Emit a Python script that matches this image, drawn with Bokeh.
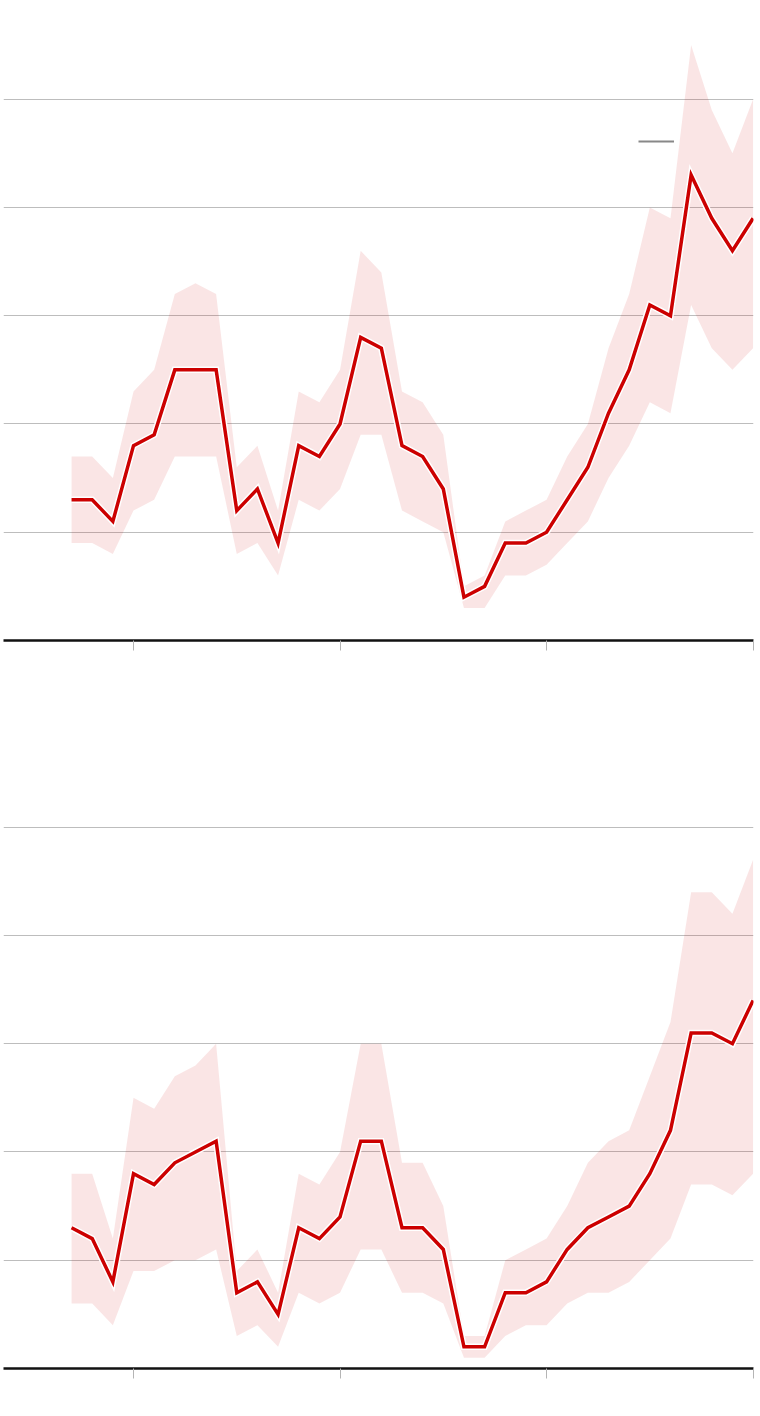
from bokeh.plotting import figure
from bokeh.layouts import column
from bokeh.models import (ColumnDataSource, Range1d, FixedTicker, CustomJSTickFormatter,
                          Legend, LegendItem)
from bokeh.embed import file_html
from bokeh.resources import INLINE

# ---- data ----
years = list(range(1977, 2011))
x_ticks = [1980, 1990, 2000, 2010]
y_grid = [10, 20, 30, 40, 50]

top_mid = [13, 13, 11, 18, 19, 25, 25, 25, 12, 14, 9, 18, 17, 20, 28, 27, 18, 17, 14, 4,
           5, 9, 9, 10, 13, 16, 21, 25, 31, 30, 43, 39, 36, 39]
top_hi = [17, 17, 15, 23, 25, 32, 33, 32, 16, 18, 12, 23, 22, 25, 36, 34, 23, 22, 19, 5,
          6, 11, 12, 13, 17, 20, 27, 32, 40, 39, 55, 49, 45, 50]
top_lo = [9, 9, 8, 12, 13, 17, 17, 17, 8, 9, 6, 13, 12, 14, 19, 19, 12, 11, 10, 3,
          3, 6, 6, 7, 9, 11, 15, 18, 22, 21, 31, 27, 25, 27]

bot_mid = [13, 12, 8, 18, 17, 19, 20, 21, 7, 8, 5, 13, 12, 14, 21, 21, 13, 13, 11, 2,
           2, 7, 7, 8, 11, 13, 14, 15, 18, 22, 31, 31, 30, 34]
bot_hi = [18, 18, 12, 25, 24, 27, 28, 30, 9, 11, 7, 18, 17, 20, 30, 30, 19, 19, 15, 3,
          3, 10, 11, 12, 15, 19, 21, 22, 27, 32, 44, 44, 42, 47]
bot_lo = [6, 6, 4, 9, 9, 10, 10, 11, 3, 4, 2, 7, 6, 7, 11, 11, 7, 7, 6, 1,
          1, 3, 4, 4, 6, 7, 7, 8, 10, 12, 17, 17, 16, 18]

RED = "#cc0000"


def make_panel(mid, hi, lo, height, top_border, with_legend):
    p = figure(width=756, height=height, output_backend="svg", toolbar_location=None,
               x_range=Range1d(1973.705, 2010.02), y_range=Range1d(0, 58.38),
               min_border_left=3, min_border_right=3, min_border_top=top_border,
               min_border_bottom=40)
    p.outline_line_color = None
    p.background_fill_color = "white"
    p.border_fill_color = "white"

    p.yaxis.visible = False
    p.xgrid.visible = False
    p.ygrid.ticker = FixedTicker(ticks=y_grid)
    p.ygrid.grid_line_color = "#bdbdbd"
    p.ygrid.grid_line_width = 1

    xa = p.xaxis[0]
    xa.ticker = FixedTicker(ticks=x_ticks)
    xa.formatter = CustomJSTickFormatter(code="return ''")
    xa.axis_line_color = "#111111"
    xa.axis_line_width = 2.5
    xa.major_tick_in = 0
    xa.major_tick_out = 10
    xa.major_tick_line_color = "#b5b5b5"
    xa.major_tick_line_width = 1
    xa.minor_tick_line_color = None
    xa.major_label_standoff = 0

    src = ColumnDataSource(dict(x=years, mid=mid, hi=hi, lo=lo))
    p.varea(x="x", y1="lo", y2="hi", source=src, fill_color=RED, fill_alpha=0.1)
    p.line(x="x", y="mid", source=src, line_color="white", line_width=6.5,
           line_join="miter")
    p.line(x="x", y="mid", source=src, line_color=RED, line_width=3.5,
           line_join="miter")

    if with_legend:
        # legend key only: one NaN point so nothing is drawn in the plot area
        key = p.line(x=[years[-1]], y=[float("nan")], line_color="#888888", line_width=2)
        leg = Legend(items=[LegendItem(label=" ", renderers=[key])],
                     location=(635, 489), orientation="vertical",
                     glyph_width=36, glyph_height=20, label_width=0, label_height=20,
                     label_standoff=0, padding=0, margin=0, spacing=0,
                     label_text_font_size="10px", label_text_color="white",
                     background_fill_alpha=0, border_line_alpha=0)
        p.add_layout(leg, "center")
    return p


p1 = make_panel(top_mid, top_hi, top_lo, 680, 8, True)
p2 = make_panel(bot_mid, bot_hi, bot_lo, 728, 56, False)

layout = column(p1, p2, spacing=0)
open("out.html", "w").write(file_html(layout, INLINE))
